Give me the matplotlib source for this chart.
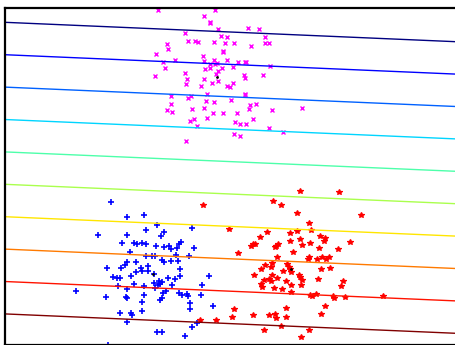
import numpy as np
import matplotlib
matplotlib.use("Agg")
import matplotlib.pyplot as plt

# class 1 (magenta x)
x1 = [157.7, 214.7, 204.0, 210.3, 210.0, 217.7, 248.0, 258.7, 185.0, 220.7,
      226.7, 265.0, 187.7, 195.0, 197.7, 214.0, 225.0, 234.0, 264.7, 268.7,
      167.3, 168.3, 251.3, 223.0, 223.0, 156.0, 203.0, 175.0, 163.0, 204.3,
      213.7, 226.7, 238.0, 245.0, 246.3, 210.3, 215.0, 216.7, 165.0, 205.0,
      210.3, 222.3, 232.7, 269.7, 218.3, 216.3, 185.0, 155.0, 187.3, 203.7,
      217.7, 212.0, 244.3, 244.7, 263.3, 233.3, 186.0, 200.7, 227.0, 229.7,
      206.7, 245.0, 245.3, 171.0, 188.3, 191.3, 205.7, 214.0, 230.7, 171.0,
      167.3, 172.3, 192.0, 203.7, 249.7, 256.0, 249.0, 271.7, 302.0, 212.7,
      223.3, 237.0, 194.0, 189.7, 207.0, 252.7, 235.3, 240.3, 245.7, 197.3,
      269.0, 283.0, 234.3, 240.0, 185.7]
y1 = [9.7, 10.3, 15.7, 21.7, 23.3, 29.3, 28.0, 29.0, 33.0, 36.0,
      36.7, 36.7, 41.3, 40.7, 41.7, 42.0, 42.7, 43.0, 43.0, 43.0,
      44.3, 48.7, 45.7, 50.7, 52.0, 54.3, 55.7, 59.7, 62.0, 61.3,
      60.3, 60.3, 61.7, 61.7, 61.7, 64.3, 64.0, 63.3, 68.0, 69.3,
      68.3, 68.0, 67.0, 65.7, 70.7, 74.0, 73.3, 76.3, 79.0, 79.0,
      80.7, 82.7, 74.7, 77.7, 74.7, 83.0, 84.0, 86.0, 86.3, 87.0,
      93.7, 94.0, 95.0, 96.3, 98.3, 96.3, 100.7, 102.3, 99.7, 104.3,
      109.7, 111.7, 108.7, 108.3, 105.3, 104.3, 108.7, 109.7, 108.3, 113.3,
      113.3, 113.3, 118.7, 120.7, 118.3, 119.3, 122.0, 123.7, 124.0, 125.7,
      127.7, 132.0, 134.3, 135.7, 140.7]

# class 2 (blue +)
x2 = [111.0, 127.3, 143.7, 156.7, 145.7, 192.3, 97.7, 127.0, 164.3, 161.0,
      122.3, 133.7, 137.0, 142.3, 146.0, 155.7, 163.7, 169.0, 171.3, 177.0,
      179.3, 180.7, 194.3, 130.0, 146.0, 152.3, 154.7, 175.7, 189.0, 161.7,
      164.0, 171.3, 177.7, 136.3, 127.0, 125.3, 148.3, 107.3, 121.0, 141.0,
      142.0, 135.7, 147.7, 180.3, 154.3, 131.3, 112.7, 116.7, 120.0, 180.0,
      208.7, 168.3, 174.7, 159.3, 161.7, 153.7, 157.7, 160.0, 134.3, 118.0,
      144.3, 171.7, 155.0, 127.3, 202.0, 76.0, 165.7, 162.7, 179.3, 182.3,
      186.7, 188.3, 201.3, 106.3, 126.0, 126.7, 144.3, 161.7, 160.3, 142.3,
      190.3, 213.3, 189.7, 142.0, 120.3, 131.0, 131.7, 127.3, 197.3, 192.0,
      156.7, 162.3, 185.3, 108.0]
y2 = [202.3, 217.3, 215.0, 224.7, 229.7, 228.3, 235.0, 235.0, 232.3, 235.7,
      243.0, 243.3, 243.7, 243.0, 244.0, 246.0, 246.7, 246.3, 249.0, 248.0,
      244.3, 242.3, 248.0, 252.0, 256.3, 255.7, 256.0, 255.3, 256.0, 259.7,
      262.0, 261.3, 261.3, 262.0, 262.0, 264.7, 265.7, 267.7, 267.7, 268.3,
      271.0, 271.7, 270.7, 269.3, 274.0, 276.0, 277.3, 278.0, 278.3, 276.3,
      275.7, 278.3, 279.0, 280.7, 282.3, 282.7, 284.7, 284.3, 284.3, 285.7,
      286.3, 285.0, 288.0, 288.7, 285.0, 290.7, 291.0, 292.7, 293.3, 294.7,
      294.3, 296.0, 295.3, 297.3, 296.7, 298.3, 295.3, 298.0, 299.7, 302.3,
      303.3, 306.0, 309.0, 311.3, 313.3, 313.3, 315.3, 322.0, 322.7, 326.7,
      332.0, 331.7, 335.7, 344.5]

# class 3 (red *)
x3 = [300.3, 339.3, 202.7, 273.0, 280.7, 297.3, 361.0, 309.0, 228.7, 267.0,
      290.0, 296.7, 310.7, 259.7, 320.3, 325.0, 323.7, 299.7, 290.0, 350.3,
      252.7, 255.3, 251.3, 278.0, 276.3, 274.7, 302.0, 310.3, 319.0, 338.0,
      237.7, 292.7, 277.3, 309.3, 307.7, 317.0, 322.3, 325.7, 329.3, 272.3,
      265.3, 271.0, 287.3, 289.0, 260.7, 283.3, 290.0, 291.0, 321.3, 330.3,
      254.3, 271.7, 299.0, 300.0, 277.0, 264.0, 269.3, 270.7, 285.7, 302.0,
      318.3, 343.3, 260.7, 262.3, 291.3, 301.3, 341.0, 274.3, 282.0, 290.7,
      309.7, 312.0, 316.0, 333.0, 333.7, 345.3, 383.3, 325.0, 234.0, 286.3,
      252.7, 269.0, 276.3, 285.7, 321.3, 232.0, 200.0, 215.7, 280.7, 264.3,
      309.3, 301.0, 275.0]
y3 = [191.3, 192.0, 204.7, 201.3, 205.3, 213.0, 215.3, 222.7, 229.0, 232.3,
      233.0, 231.3, 230.0, 236.7, 236.0, 238.0, 240.7, 239.3, 241.0, 242.0,
      243.7, 244.0, 246.3, 244.3, 245.7, 247.0, 245.3, 243.3, 247.7, 249.3,
      252.7, 252.0, 257.3, 256.7, 259.3, 258.7, 256.7, 258.7, 257.0, 263.0,
      265.0, 267.0, 263.7, 266.7, 269.0, 271.0, 268.7, 272.3, 269.3, 268.0,
      275.3, 275.0, 275.0, 277.3, 278.0, 280.0, 279.3, 281.0, 280.7, 280.0,
      279.0, 280.7, 283.7, 286.7, 284.7, 285.3, 286.0, 287.7, 288.7, 292.0,
      295.0, 295.7, 294.0, 296.3, 297.7, 297.3, 296.3, 305.7, 309.3, 308.0,
      315.3, 314.7, 317.7, 317.0, 314.0, 317.0, 319.7, 320.3, 326.0, 330.3,
      330.3, 336.7, 313.5]

# discriminant direction and contour levels
w = [-0.043, 1.0]
levels = [22.1, 54.5, 86.9, 119.3, 151.7, 184.1, 216.5, 248.9, 281.3, 313.7]

fig = plt.figure(figsize=(4.55, 3.45), dpi=100)
ax = fig.add_axes([5 / 455, 0.5 / 345, 465 / 455, 336.7 / 345])

ax.plot(x1, y1, "x", color="magenta", ms=3, mew=1.0)
ax.plot(x2, y2, "+", color="blue", ms=4.5, mew=1.2)
ax.plot(x3, y3, "*", color="red", ms=3.8, mew=0.9)

# class means
for xs, ys in [(x1, y1), (x2, y2), (x3, y3)]:
    ax.plot(np.mean(xs), np.mean(ys), "k.", ms=2)

gx, gy = np.meshgrid(np.linspace(5, 470, 200), np.linspace(7.8, 344.5, 200))
f = w[0] * gx + w[1] * gy
ax.contour(gx, gy, f, levels=levels, cmap="jet", linewidths=1.0)

ax.set_xlim(5, 470)
ax.set_ylim(344.5, 7.8)
ax.set_xticks([])
ax.set_yticks([])
for s in ax.spines.values():
    s.set_linewidth(1.6)

fig.savefig("out.png", dpi=100)
